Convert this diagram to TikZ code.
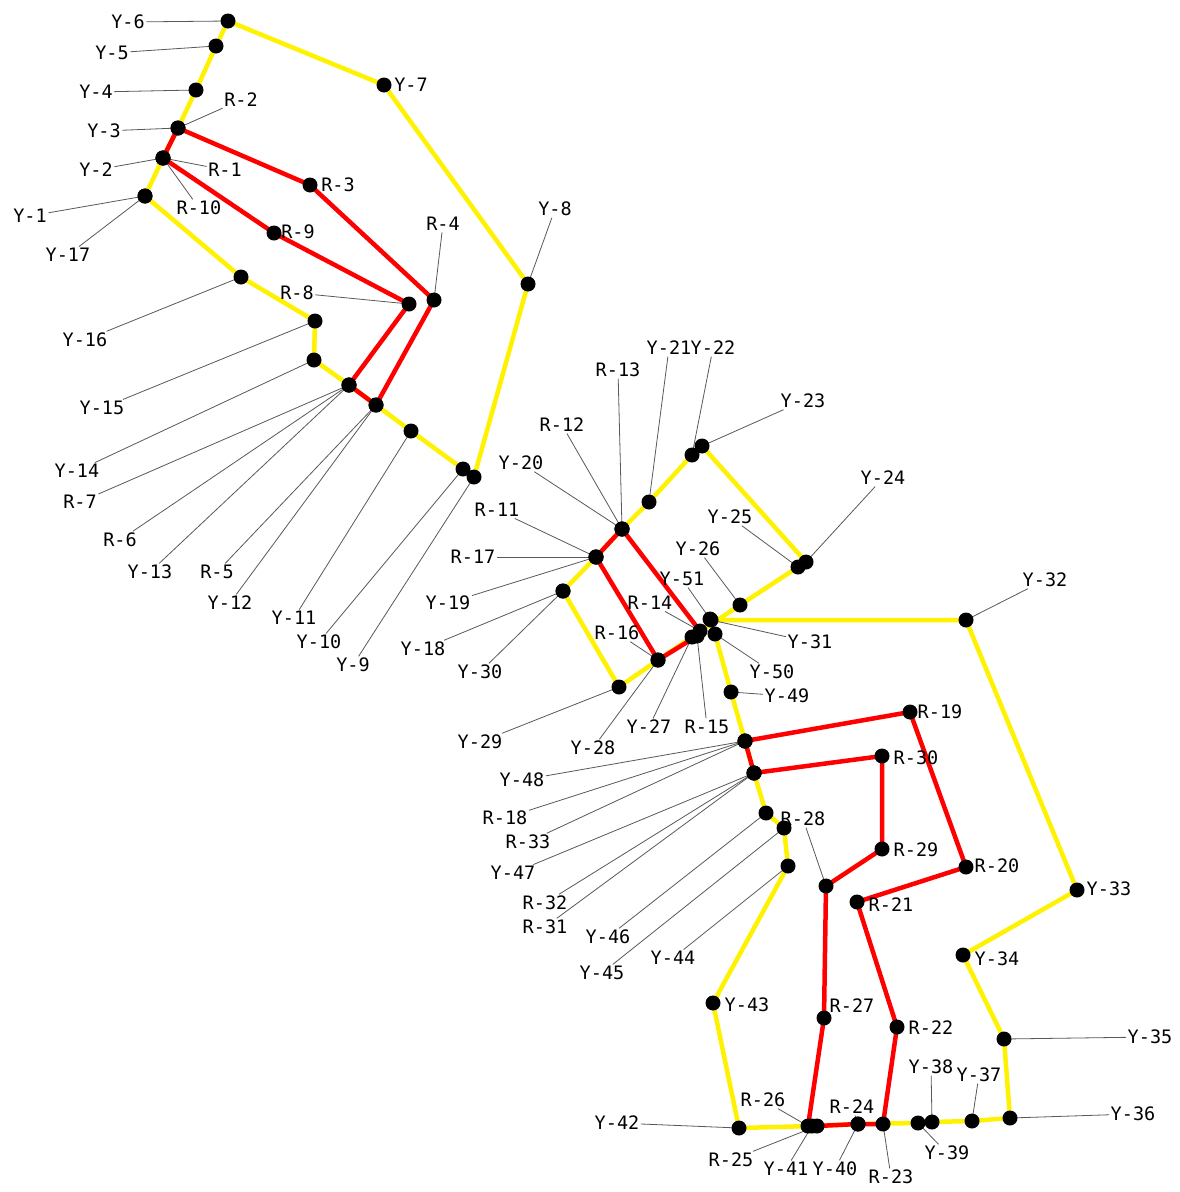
\documentclass[tikz,border=0pt]{standalone}
\usepackage{fontspec}
\newfontfamily\lblfont{DejaVu Sans Mono}
\begin{document}
\begin{tikzpicture}[x=1pt,y=-1pt,
  dot/.style={circle,fill=black,inner sep=0pt,minimum size=15pt},
  lbl/.style={font=\lblfont\fontsize{18.5}{20}\selectfont,inner sep=1.5pt},
  yl/.style={draw=yellow,line width=4.5pt,line join=round},
  rl/.style={draw=red,line width=4.5pt,line join=round},
  lead/.style={draw=black!65,line width=0.8pt}]
\useasboundingbox[fill=white] (0,0) rectangle (1180,1192);
% positions
\foreach \n/\x/\y in {
 y1/145/196, y2/163/158, y3/178/128, y4/196/90, y5/216/46, y6/228/21,
 y7/384/85, y8/528/284, y9/474/477, y10/463/469, y11/411/431, y12/376/405,
 y13/349/385, y14/314/360, y15/315/321, y16/241/277, y17/145/196,
 r1/163/158, r2/178/128, r3/310/185, r4/434/300, r5/376/405, r6/349/385,
 r7/349/385, r8/409/304, r9/274/233, r10/163/158,
 y18/563/591, y19/596/557, y20/622/529, y21/649/502, y22/692/455, y23/702/446,
 y24/806/562, y25/798/567, y26/740/605, y27/692/637, y28/658/660, y29/619/687,
 y30/563/591,
 r11/596/557, r12/622/529, r13/622/529, r14/700/631, r15/697/636, r16/658/660,
 r17/596/557,
 y31/711/620, y32/966/620, y33/1077/890, y34/963/955, y35/1004/1039,
 y36/1010/1118, y37/972/1121, y38/932/1122, y39/918/1123, y40/858/1124,
 y41/812/1126, y42/739/1128, y43/713/1003, y44/788/866, y45/784/828,
 y46/766/813, y47/754/773, y48/745/741, y49/731/692, y50/715/634, y51/710/619,
 r18/745/741, r19/910/712, r20/966/867, r21/857/902, r22/897/1027,
 r23/883/1124, r24/858/1124, r25/817/1126, r26/808/1126, r27/824/1018,
 r28/826/886, r29/882/849, r30/882/756, r31/754/773, r32/754/773, r33/745/741}
 \coordinate (p\n) at (\x,\y);
% yellow routes
\draw[yl] (py1)--(py2)--(py3)--(py4)--(py5)--(py6)--(py7)--(py8)--(py9)--(py10)
  --(py11)--(py12)--(py13)--(py14)--(py15)--(py16)--(py17);
\draw[yl] (py18)--(py19)--(py20)--(py21)--(py22)--(py23)--(py24)--(py25)--(py26)
  --(py27)--(py28)--(py29)--(py30);
\draw[yl] (py31)--(py32)--(py33)--(py34)--(py35)--(py36)--(py37)--(py38)--(py39)
  --(py40)--(py41)--(py42)--(py43)--(py44)--(py45)--(py46)--(py47)--(py48)
  --(py49)--(py50)--(py51);
% red routes
\draw[rl] (pr1)--(pr2)--(pr3)--(pr4)--(pr5)--(pr6)--(pr7)--(pr8)--(pr9)--(pr10);
\draw[rl] (pr11)--(pr12)--(pr13)--(pr14)--(pr15)--(pr16)--(pr17);
\draw[rl] (pr18)--(pr19)--(pr20)--(pr21)--(pr22)--(pr23)--(pr24)--(pr25)--(pr26)
  --(pr27)--(pr28)--(pr29)--(pr30)--(pr31)--(pr32)--(pr33);
% labels with leaders
\foreach \n/\x/\y/\t in {
 y1/30/216/Y-1, y2/96/170/Y-2, y3/104/131/Y-3, y4/96/92/Y-4, y5/112/53/Y-5,
 y6/128/22/Y-6, y8/555/209/Y-8, y9/353/665/Y-9, y10/319/642/Y-10,
 y11/294/618/Y-11, y12/230/603/Y-12, y13/150/572/Y-13, y14/77/471/Y-14,
 y15/102/408/Y-15, y16/85/340/Y-16, y17/68/255/Y-17,
 r1/225/170/R-1, r2/241/100/R-2, r4/443/224/R-4, r5/217/572/R-5,
 r6/120/540/R-6, r7/80/502/R-7, r8/297/293/R-8, r10/199/208/R-10,
 y18/423/649/Y-18, y19/448/603/Y-19, y20/521/463/Y-20, y21/669/348/Y-21,
 y22/713/348/Y-22, y23/803/401/Y-23, y24/883/478/Y-24, y25/730/517/Y-25,
 y26/698/549/Y-26, y27/649/727/Y-27, y28/593/748/Y-28, y29/480/742/Y-29,
 y30/480/672/Y-30,
 r11/497/510/R-11, r12/562/425/R-12, r13/618/370/R-13, r14/650/603/R-14,
 r15/707/727/R-15, r16/617/633/R-16, r17/473/557/R-17,
 y31/810/642/Y-31, y32/1045/580/Y-32, y35/1150/1037/Y-35, y36/1133/1114/Y-36,
 y37/979/1075/Y-37, y38/931/1067/Y-38, y39/947/1153/Y-39, y40/835/1169/Y-40,
 y41/786/1169/Y-41, y42/617/1123/Y-42, y44/673/958/Y-44, y45/602/973/Y-45,
 y46/608/937/Y-46, y47/513/873/Y-47, y48/522/780/Y-48, y49/787/696/Y-49,
 y50/772/672/Y-50, y51/682/579/Y-51,
 r18/505/818/R-18, r23/891/1177/R-23, r24/852/1107/R-24, r25/731/1160/R-25,
 r26/763/1100/R-26, r28/803/819/R-28, r31/545/927/R-31, r32/545/903/R-32,
 r33/528/842/R-33}
 {\node[lbl] (l\n) at (\x,\y) {\t};
  \draw[lead] (l\n) -- (p\n);}
% labels without leaders
\foreach \n/\x/\y/\t in {
 y7/411/85/Y-7, r3/338/185/R-3, r9/298/232/R-9, y33/1109/889/Y-33,
 y34/997/959/Y-34, y43/747/1005/Y-43, r19/940/712/R-19, r20/997/866/R-20,
 r21/891/905/R-21, r22/931/1028/R-22, r27/852/1006/R-27, r29/916/850/R-29,
 r30/916/758/R-30}
 \node[lbl] (l\n) at (\x,\y) {\t};
% dots
\foreach \n in {y1,y2,y3,y4,y5,y6,y7,y8,y9,y10,y11,y12,y13,y14,y15,y16,y17,
 r1,r2,r3,r4,r5,r6,r7,r8,r9,r10,
 y18,y19,y20,y21,y22,y23,y24,y25,y26,y27,y28,y29,y30,
 r11,r12,r13,r14,r15,r16,r17,
 y31,y32,y33,y34,y35,y36,y37,y38,y39,y40,y41,y42,y43,y44,y45,y46,y47,y48,
 y49,y50,y51,
 r18,r19,r20,r21,r22,r23,r24,r25,r26,r27,r28,r29,r30,r31,r32,r33}
 \node[dot] (\n) at (p\n) {};
\end{tikzpicture}
\end{document}
